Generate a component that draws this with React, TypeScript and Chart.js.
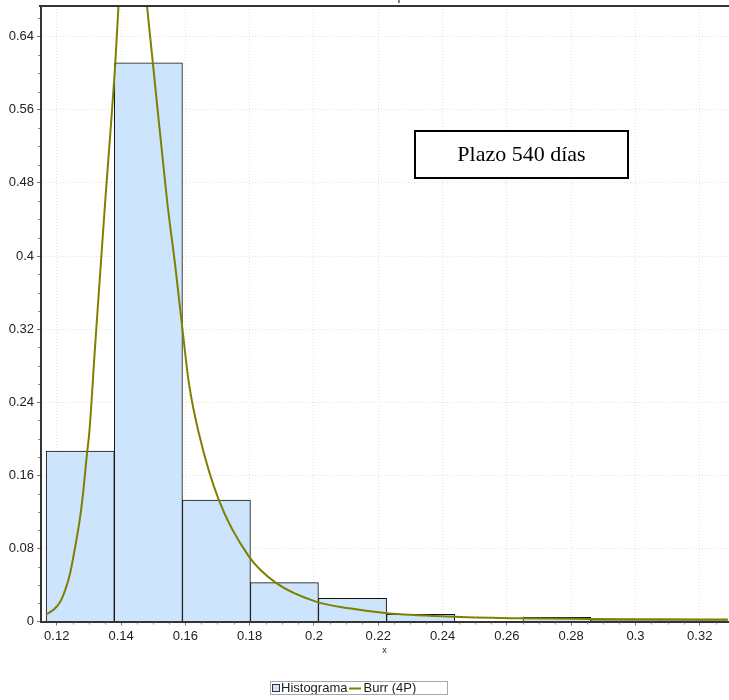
import React, { useEffect, useRef } from 'react';
import { Chart, registerables } from 'chart.js';

Chart.register(...registerables);

// ---- data ----
const titleText = 'Función de densidad de probabilidad';
const annotationText = 'Plazo 540 días';
const legendLabels = ['Histograma', 'Burr (4P)'];
const xAxisTitle = 'x';

const xMin = 0.1151;
const xMax = 0.3288;
const yMin = 0;
const yMax = 0.6736;
const xTickStep = 0.02;
const yTickStep = 0.08;

const binCenters = [0.1273, 0.1485, 0.1697, 0.1908, 0.212, 0.2332, 0.2544, 0.2756, 0.2967, 0.3179];
const histValues = [0.1866, 0.6115, 0.133, 0.0425, 0.0254, 0.0079, 0.0, 0.0045, 0.001, 0.001];

const curveX = [
  0.1167, 0.1189, 0.121, 0.1226, 0.1241, 0.1257, 0.1273, 0.1283, 0.1293, 0.1302, 0.1319,
  0.1335, 0.1351, 0.1382, 0.1392, 0.141, 0.143, 0.145, 0.1465, 0.1481, 0.1499, 0.1543,
  0.1569, 0.159, 0.1611, 0.1642, 0.1704, 0.1798, 0.1881, 0.2006, 0.211, 0.2228, 0.2436,
  0.2643, 0.285, 0.307, 0.3288,
];
const curveY = [
  0.0079, 0.0125, 0.021, 0.034, 0.052, 0.081, 0.115, 0.144, 0.18, 0.21, 0.3,
  0.381, 0.461, 0.611, 0.673, 0.76, 0.8, 0.78, 0.73, 0.673, 0.611, 0.461,
  0.388, 0.323, 0.261, 0.206, 0.133, 0.071, 0.0425, 0.0217, 0.0144, 0.009, 0.0053,
  0.0035, 0.0028, 0.0024, 0.0021,
];

const fmt = (v: number) => String(+Number(v).toFixed(4));

const extrasPlugin = {
  id: 'extras',
  afterDatasetsDraw(chart: any) {
    const ctx = chart.ctx;
    ctx.save();
    // annotation box
    ctx.fillStyle = '#ffffff';
    ctx.fillRect(414, 130, 215, 49);
    ctx.strokeStyle = '#000';
    ctx.lineWidth = 2;
    ctx.strokeRect(415, 131, 213, 47);
    ctx.fillStyle = '#000';
    ctx.font = '22px "Liberation Serif", "Times New Roman", serif';
    ctx.textAlign = 'center';
    ctx.textBaseline = 'middle';
    ctx.fillText(annotationText, 521.5, 155.5);
    ctx.restore();
  },
  afterDraw(chart: any) {
    const ctx = chart.ctx;
    const { left, right, top, bottom } = chart.chartArea;
    const xs = chart.scales.x;
    const ys = chart.scales.y;
    ctx.save();
    // top border
    ctx.strokeStyle = '#333';
    ctx.lineWidth = 2;
    ctx.beginPath();
    ctx.moveTo(left - 2, top);
    ctx.lineTo(right + 2, top);
    ctx.stroke();

    // minor ticks
    ctx.strokeStyle = '#888';
    ctx.lineWidth = 1;
    ctx.beginPath();
    const xt = xs.ticks.map((t: any) => t.value);
    for (const t of xt) {
      for (const d of [0.005, 0.01, 0.015]) {
        const v = t + d;
        if (v > xMax) continue;
        const px = Math.round(xs.getPixelForValue(v)) + 0.5;
        ctx.moveTo(px, bottom + 1);
        ctx.lineTo(px, bottom + 3);
      }
    }
    const yt = ys.ticks.map((t: any) => t.value);
    for (const t of yt) {
      for (const d of [0.02, 0.04, 0.06]) {
        const v = t + d;
        if (v > yMax) continue;
        const py = Math.round(ys.getPixelForValue(v)) + 0.5;
        ctx.moveTo(left - 3, py);
        ctx.lineTo(left - 1, py);
      }
    }
    ctx.stroke();

    // cut-off title
    ctx.fillStyle = '#666';
    ctx.font = 'bold 12px Arial, "Liberation Sans", sans-serif';
    ctx.textAlign = 'center';
    ctx.textBaseline = 'alphabetic';
    ctx.fillText(titleText, 363, 0);

    // legend
    ctx.font = '13px Arial, "Liberation Sans", sans-serif';
    ctx.textAlign = 'left';
    ctx.textBaseline = 'middle';
    const ly = 688.5;
    ctx.fillStyle = '#cce4fc';
    ctx.fillRect(272, 684, 8, 8);
    ctx.strokeStyle = '#333';
    ctx.lineWidth = 1;
    ctx.strokeRect(272.5, 684.5, 7, 7);
    ctx.fillStyle = '#222';
    ctx.fillText(legendLabels[0], 281, ly);
    ctx.strokeStyle = '#808000';
    ctx.lineWidth = 2;
    ctx.beginPath();
    ctx.moveTo(349, ly);
    ctx.lineTo(361, ly);
    ctx.stroke();
    ctx.fillText(legendLabels[1], 363.5, ly);
    ctx.strokeStyle = '#a8a8a8';
    ctx.lineWidth = 1;
    ctx.strokeRect(270.5, 681.5, 177, 13);
    ctx.restore();
  },
};

function App() {
  const ref = useRef<HTMLCanvasElement | null>(null);
  useEffect(() => {
    if (!ref.current) return;
    const gridColor = '#e4e4cc';
    const tickFont = { family: 'Arial, "Liberation Sans", sans-serif', size: 13 };
    const chart = new Chart(ref.current, {
      type: 'bar',
      data: {
        datasets: [
          {
            type: 'line',
            label: legendLabels[1],
            data: curveX.map((x, i) => ({ x, y: curveY[i] })),
            borderColor: '#808000',
            backgroundColor: '#808000',
            borderWidth: 2,
            pointRadius: 0,
            cubicInterpolationMode: 'monotone',
            fill: false,
            order: 0,
          } as any,
          {
            type: 'bar',
            label: legendLabels[0],
            data: binCenters.map((x, i) => ({ x, y: histValues[i] })),
            backgroundColor: '#cce4fc',
            borderColor: '#111',
            borderWidth: 1,
            barThickness: 'flex',
            barPercentage: 1,
            categoryPercentage: 1,
            order: 1,
          } as any,
        ],
      },
      options: {
        animation: false,
        responsive: false,
        devicePixelRatio: 1,
        layout: { padding: { top: 6, right: 1, bottom: 0, left: 0 } },
        plugins: {
          legend: { display: false },
          title: { display: false },
          tooltip: { enabled: false },
        },
        scales: {
          x: {
            type: 'linear',
            min: xMin,
            max: xMax,
            offset: false,
            grid: { color: gridColor, offset: false, tickLength: 4, tickColor: '#777' },
            border: { color: '#333', width: 2, dash: [1, 2] },
            ticks: {
              stepSize: xTickStep,
              includeBounds: false,
              autoSkip: false,
              maxRotation: 0,
              padding: 3,
              color: '#222',
              font: tickFont,
              callback: (v: any) => fmt(v),
            },
            title: {
              display: true,
              text: xAxisTitle,
              color: '#222',
              font: { family: 'Arial, "Liberation Sans", sans-serif', size: 9 },
              padding: { top: 0, bottom: 43.6 },
            },
            afterFit: (s: any) => {
              s.height = 78.5;
              s.paddingLeft = 0;
              s.paddingRight = 0;
            },
          },
          y: {
            type: 'linear',
            min: yMin,
            max: yMax,
            grid: { color: gridColor, tickLength: 4, tickColor: '#777' },
            border: { color: '#333', width: 2, dash: [1, 2] },
            ticks: {
              stepSize: yTickStep,
              includeBounds: false,
              padding: 3,
              color: '#222',
              font: tickFont,
              callback: (v: any) => fmt(v),
            },
            afterFit: (s: any) => {
              s.width = 41;
              s.paddingTop = 0;
              s.paddingBottom = 0;
            },
          },
        },
      } as any,
      plugins: [extrasPlugin],
    });
    return () => chart.destroy();
  }, []);
  return (
    <div style={{ position: 'fixed', left: 0, top: 0, width: 729, height: 700, background: '#fff' }}>
      <canvas ref={ref} width={729} height={700} style={{ display: 'block', width: 729, height: 700 }} />
    </div>
  );
}

export default App;
